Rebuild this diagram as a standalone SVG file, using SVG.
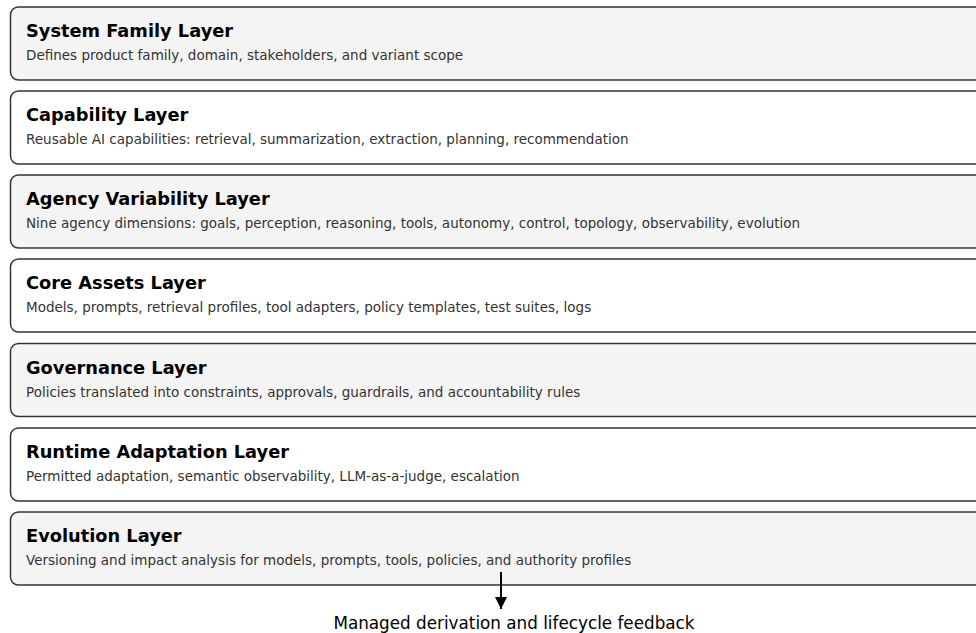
<svg xmlns="http://www.w3.org/2000/svg" width="976" height="633" viewBox="0 0 976 633">
  <defs>
    <style>
      .layer { stroke: #333333; stroke-width: 1.5; }
      .shade { fill: #f4f4f4; }
      .plain { fill: #ffffff; }
      .title { font-family: "DejaVu Sans", sans-serif; font-weight: bold; font-size: 17.8px; fill: #000000; }
      .desc { font-family: "DejaVu Sans", sans-serif; font-size: 13.5px; fill: #333333; }
      .note { font-family: "DejaVu Sans", sans-serif; font-size: 16.8px; fill: #000000; text-anchor: middle; }
      .flow { stroke: #000000; stroke-width: 2; fill: none; }
    </style>
    <marker id="arrowhead" viewBox="0 0 10 10" refX="10" refY="5" markerWidth="6" markerHeight="6" orient="auto" markerUnits="strokeWidth">
      <path d="M0,0 L10,5 L0,10 Z" fill="#000000"/>
    </marker>
  </defs>
  <rect width="976" height="633" fill="#ffffff"/>

  <g id="system-family-layer">
    <rect class="layer shade" x="10.5" y="7" width="1000" height="73" rx="8"/>
    <text class="title" x="26" y="37">System Family Layer</text>
    <text class="desc" x="26" y="60">Defines product family, domain, stakeholders, and variant scope</text>
  </g>

  <g id="capability-layer">
    <rect class="layer plain" x="10.5" y="91" width="1000" height="73" rx="8"/>
    <text class="title" x="26" y="121">Capability Layer</text>
    <text class="desc" x="26" y="144">Reusable AI capabilities: retrieval, summarization, extraction, planning, recommendation</text>
  </g>

  <g id="agency-variability-layer">
    <rect class="layer shade" x="10.5" y="175" width="1000" height="73" rx="8"/>
    <text class="title" x="26" y="205">Agency Variability Layer</text>
    <text class="desc" x="26" y="228">Nine agency dimensions: goals, perception, reasoning, tools, autonomy, control, topology, observability, evolution</text>
  </g>

  <g id="core-assets-layer">
    <rect class="layer plain" x="10.5" y="259" width="1000" height="73" rx="8"/>
    <text class="title" x="26" y="289">Core Assets Layer</text>
    <text class="desc" x="26" y="312">Models, prompts, retrieval profiles, tool adapters, policy templates, test suites, logs</text>
  </g>

  <g id="governance-layer">
    <rect class="layer shade" x="10.5" y="343.5" width="1000" height="73" rx="8"/>
    <text class="title" x="26" y="373.5">Governance Layer</text>
    <text class="desc" x="26" y="396.5">Policies translated into constraints, approvals, guardrails, and accountability rules</text>
  </g>

  <g id="runtime-adaptation-layer">
    <rect class="layer plain" x="10.5" y="428" width="1000" height="73" rx="8"/>
    <text class="title" x="26" y="458">Runtime Adaptation Layer</text>
    <text class="desc" x="26" y="481">Permitted adaptation, semantic observability, LLM-as-a-judge, escalation</text>
  </g>

  <g id="evolution-layer">
    <rect class="layer shade" x="10.5" y="512" width="1000" height="73" rx="8"/>
    <text class="title" x="26" y="542">Evolution Layer</text>
    <text class="desc" x="26" y="565">Versioning and impact analysis for models, prompts, tools, policies, and authority profiles</text>
  </g>

  <g id="connectors">
    <line class="flow" x1="501" y1="572" x2="501" y2="609" marker-end="url(#arrowhead)"/>
  </g>

  <g id="feedback-label">
    <text class="note" x="514" y="629">Managed derivation and lifecycle feedback</text>
  </g>
</svg>
